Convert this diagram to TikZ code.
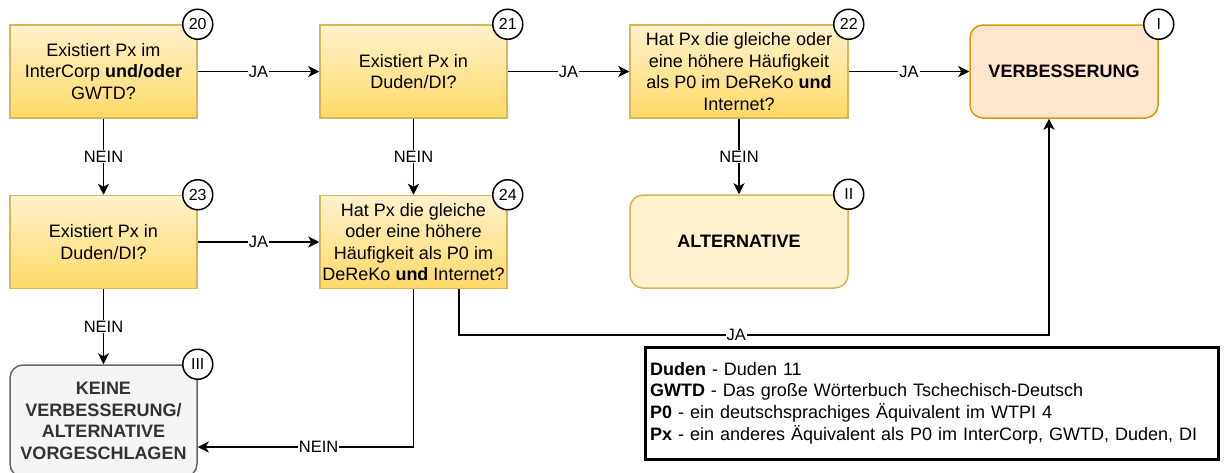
\documentclass[tikz,border=0pt]{standalone}
\usepackage{fontspec}
\setmainfont{Liberation Sans}
\usetikzlibrary{positioning, arrows.meta, calc}

\definecolor{yellowlight}{HTML}{FFF2CC}
\definecolor{yellowdark}{HTML}{FFD966}
\definecolor{yellowline}{HTML}{D6B656}
\definecolor{orangelight}{HTML}{FFE6CC}
\definecolor{orangeline}{HTML}{D79B00}
\definecolor{greylight}{HTML}{F5F5F5}
\definecolor{greyline}{HTML}{666666}
\definecolor{greytext}{HTML}{333333}

\begin{document}
\begin{tikzpicture}[
    x=1pt, y=-1pt,
    question/.style={rectangle, draw=yellowline, line width=1.5pt, top color=yellowlight,
                     bottom color=yellowdark, minimum width=187pt, minimum height=93pt,
                     align=center, inner sep=2pt, font=\fontsize{18}{21.6}\selectfont},
    result/.style={rectangle, rounded corners=13pt, line width=1.5pt, minimum height=93pt,
                   align=center, font=\fontsize{18}{21.6}\selectfont\bfseries},
    num/.style={circle, draw=black, fill=white, line width=1.5pt, minimum size=30pt,
                inner sep=0pt, font=\fontsize{16}{16}\selectfont},
    arrow/.style={-{Stealth[length=11pt, width=11pt, inset=3pt]}, line width=1.5pt},
    answer/.style={fill=white, inner sep=1pt, font=\fontsize{16.5}{18}\selectfont},
    legend/.style={rectangle, draw=black, line width=3pt, text width=563pt,
                   minimum height=112pt, inner sep=5pt, align=left,
                   font=\fontsize{18}{21.6}\selectfont}
]
    \useasboundingbox (0,0) rectangle (1226,472);

    % Questions
    \node[question] (d20) at (103.5, 71.5) {Existiert Px im\\InterCorp \textbf{und/oder}\\GWTD?};
    \node[question] (d21) at (413.5, 71.5) {Existiert Px in\\Duden/DI?};
    \node[question, minimum width=218pt] (d22) at (739, 71.5)
        {Hat Px die gleiche oder\\eine höhere Häufigkeit\\als P0 im DeReKo \textbf{und}\\Internet?};
    \node[question] (d23) at (103.5, 242) {Existiert Px in\\Duden/DI?};
    \node[question] (d24) at (413.5, 242)
        {Hat Px die gleiche\\oder eine höhere\\Häufigkeit als P0 im\\DeReKo \textbf{und} Internet?};

    % Results
    \node[result, draw=orangeline, fill=orangelight, minimum width=188pt] (rI) at (1064, 71.5) {VERBESSERUNG};
    \node[result, draw=yellowline, fill=yellowlight, minimum width=218pt] (rII) at (739, 241.5) {ALTERNATIVE};
    \node[result, draw=greyline, fill=greylight, text=greytext, minimum width=187pt, minimum height=112pt]
        (rIII) at (103.5, 421) {KEINE\\VERBESSERUNG/\\ALTERNATIVE\\VORGESCHLAGEN};

    % Numbers
    \node[num] (n20) at (d20.north east) {20};
    \node[num] (n21) at (d21.north east) {21};
    \node[num] (n22) at (d22.north east) {22};
    \node[num] (n23) at (d23.north east) {23};
    \node[num] (n24) at (d24.north east) {24};
    \node[num] (nI) at (rI.north east) {I};
    \node[num] (nII) at (rII.north east) {II};
    \node[num] (nIII) at (rIII.north east) {III};

    % Turning points
    \coordinate (kturn) at (413.5, 447);
    \coordinate (jturn1) at (459, 335);
    \coordinate (jturn2) at (1049, 335);

    % JA arrows
    \draw[arrow] (d20) -- node[answer] {JA} (d21);
    \draw[arrow] (d21) -- node[answer] {JA} (d22);
    \draw[arrow] (d22) -- node[answer] {JA} (rI);
    \draw[arrow] (d23) -- node[answer] {JA} (d24);
    \draw[arrow] (d24.south -| jturn1) -- (jturn1) -- node[answer, pos=0.47] {JA} (jturn2) -- (jturn2 |- rI.south);

    % NEIN arrows
    \draw[arrow] (d20) -- node[answer] {NEIN} (d23);
    \draw[arrow] (d21) -- node[answer] {NEIN} (d24);
    \draw[arrow] (d22) -- node[answer] {NEIN} (rII);
    \draw[arrow] (d23) -- node[answer] {NEIN} (rIII);
    \draw[arrow] (d24.south) -- (kturn) -- node[answer, pos=0.44] {NEIN} (kturn -| rIII.east);

    % Legend
    \node[legend] (legend) at (931.5, 403) {\textbf{Duden} - Duden 11\\
        \textbf{GWTD} - Das große Wörterbuch Tschechisch-Deutsch\\
        \textbf{P0} - ein deutschsprachiges Äquivalent im WTPI 4\\
        \textbf{Px} - ein anderes Äquivalent als P0 im InterCorp, GWTD, Duden, DI};

\end{tikzpicture}
\end{document}
